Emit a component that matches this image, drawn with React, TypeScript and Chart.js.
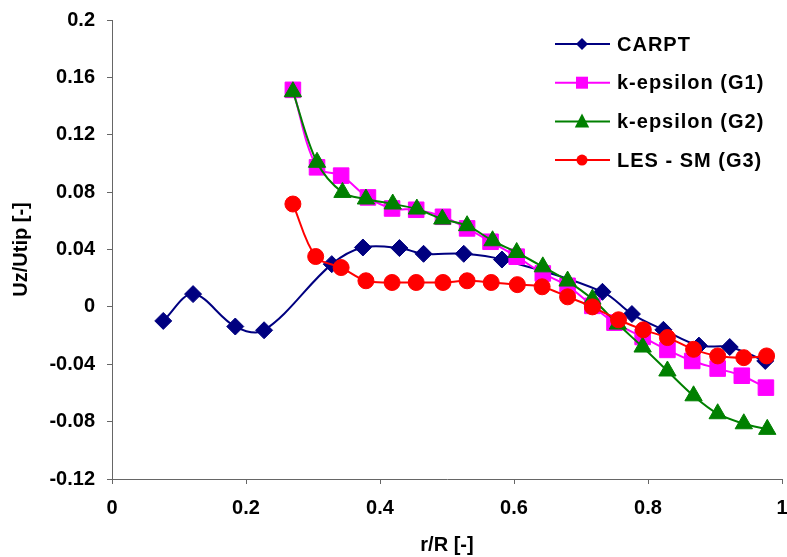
import React, { useEffect, useRef } from "react";
import { Chart, registerables } from "chart.js";

Chart.register(...registerables);

const carptX = [0.0765, 0.121, 0.184, 0.227, 0.328, 0.3745, 0.429, 0.465, 0.525, 0.582, 0.732, 0.776, 0.823, 0.876, 0.922, 0.975];
const carptY = [-0.0098, 0.0089, -0.0137, -0.0163, 0.0298, 0.0414, 0.041, 0.037, 0.037, 0.033, 0.0105, -0.005, -0.016, -0.027, -0.028, -0.0377];

const g1X = [0.27, 0.306, 0.342, 0.382, 0.418, 0.454, 0.494, 0.53, 0.565, 0.604, 0.643, 0.68, 0.717, 0.75, 0.792, 0.829, 0.866, 0.904, 0.94, 0.976];
const g1Y = [0.1513, 0.0973, 0.0915, 0.0763, 0.0686, 0.0677, 0.0628, 0.0547, 0.0454, 0.035, 0.0233, 0.0147, 0.0007, -0.011, -0.021, -0.03, -0.0377, -0.043, -0.048, -0.0563];

const g2X = [0.27, 0.306, 0.344, 0.379, 0.419, 0.455, 0.493, 0.53, 0.568, 0.604, 0.643, 0.68, 0.717, 0.755, 0.792, 0.829, 0.868, 0.904, 0.943, 0.978];
const g2Y = [0.15, 0.1008, 0.0798, 0.0752, 0.0717, 0.0682, 0.0612, 0.0566, 0.0461, 0.0379, 0.0279, 0.018, 0.0054, -0.012, -0.028, -0.0447, -0.062, -0.0745, -0.0815, -0.0854];

const lesX = [0.27, 0.304, 0.342, 0.379, 0.418, 0.454, 0.494, 0.53, 0.566, 0.605, 0.642, 0.68, 0.717, 0.756, 0.793, 0.829, 0.868, 0.904, 0.943, 0.977];
const lesY = [0.0717, 0.0351, 0.0274, 0.0182, 0.017, 0.017, 0.017, 0.0182, 0.017, 0.0155, 0.014, 0.007, 0.0, -0.009, -0.016, -0.0214, -0.0296, -0.0342, -0.0354, -0.0342];

const seriesNames = ["CARPT", "k-epsilon (G1)", "k-epsilon (G2)", "LES - SM (G3)"];
const xTitle = "r/R [-]";
const yTitle = "Uz/Utip [-]";

const FONT = "'Liberation Sans', Arial, sans-serif";

const toPts = (xs: number[], ys: number[]) => xs.map((x, i) => ({ x, y: ys[i] }));

const legendPlugin = {
  id: "customLegend",
  afterDraw(chart: any) {
    const ctx = chart.ctx;
    const ds = chart.data.datasets;
    ctx.save();
    ds.forEach((d: any, i: number) => {
      const y = 44 + i * 38.7;
      ctx.strokeStyle = d.borderColor;
      ctx.lineWidth = 2;
      ctx.beginPath();
      ctx.moveTo(555, y);
      ctx.lineTo(610, y);
      ctx.stroke();
      const r = d.legendRadius;
      ctx.fillStyle = d.pointBackgroundColor;
      ctx.beginPath();
      if (d.pointStyle === "rectRot") {
        ctx.moveTo(582, y - r);
        ctx.lineTo(582 + r, y);
        ctx.lineTo(582, y + r);
        ctx.lineTo(582 - r, y);
        ctx.closePath();
      } else if (d.pointStyle === "rect") {
        ctx.rect(582 - r, y - r, 2 * r, 2 * r);
      } else if (d.pointStyle === "triangle") {
        ctx.moveTo(582, y - r);
        ctx.lineTo(582 + r * 0.9, y + r * 0.75);
        ctx.lineTo(582 - r * 0.9, y + r * 0.75);
        ctx.closePath();
      } else {
        ctx.arc(582, y, r, 0, Math.PI * 2);
      }
      ctx.fill();
      ctx.fillStyle = "#000";
      ctx.font = `bold 20px ${FONT}`;
      ctx.textBaseline = "middle";
      ctx.textAlign = "left";
      try { (ctx as any).letterSpacing = "1px"; } catch (e) {}
      ctx.fillText(d.label, 617, y + 1);
    });
    ctx.restore();
  },
};

export default function App() {
  const ref = useRef<HTMLCanvasElement | null>(null);
  useEffect(() => {
    if (!ref.current) return;
    const mk = (i: number, xs: number[], ys: number[], color: string, style: string, radius: number, legendRadius: number, order: number) => ({
      label: seriesNames[i],
      data: toPts(xs, ys),
      borderColor: color,
      backgroundColor: color,
      pointBackgroundColor: color,
      pointBorderColor: color,
      pointStyle: style,
      pointRadius: radius,
      pointBorderWidth: 1,
      borderWidth: 2,
      tension: 0.35,
      order,
      legendRadius,
    });
    const chart = new Chart(ref.current, {
      type: "line",
      data: {
        datasets: [
          mk(0, carptX, carptY, "#000080", "rectRot", 8.5, 6, 4),
          mk(1, g1X, g1Y, "#FF00FF", "rect", 11, 6, 3),
          mk(2, g2X, g2Y, "#008000", "triangle", 10, 8, 2),
          mk(3, lesX, lesY, "#FF0000", "circle", 8, 5.5, 1),
        ] as any,
      },
      options: {
        animation: false,
        responsive: false,
        devicePixelRatio: 1,
        layout: { padding: { top: 20, right: 0, left: 0, bottom: 0 } },
        plugins: { legend: { display: false }, tooltip: { enabled: false } },
        scales: {
          x: {
            type: "linear",
            min: 0,
            max: 1,
            afterFit: (s: any) => { s.height = 78; s.paddingLeft = 0; s.paddingRight = 0; },
            ticks: {
              stepSize: 0.2,
              padding: 12,
              color: "#000",
              font: { family: FONT, size: 20, weight: "bold" },
              maxRotation: 0,
              callback: (v: any) => String(Math.round(Number(v) * 10) / 10),
            },
            grid: { drawOnChartArea: false, tickLength: 5, color: "#666" },
            border: { display: true, color: "#666", width: 1 },
            title: { display: true, text: xTitle, color: "#000", font: { family: FONT, size: 20, weight: "bold" }, padding: { top: 4, bottom: 0 } },
          },
          y: {
            type: "linear",
            min: -0.12,
            max: 0.2,
            afterFit: (s: any) => { s.width = 112; s.paddingTop = 0; s.paddingBottom = 0; },
            ticks: {
              stepSize: 0.04,
              padding: 12,
              color: "#000",
              font: { family: FONT, size: 20, weight: "bold" },
              callback: (v: any) => String(Math.round(Number(v) * 100) / 100),
            },
            grid: { drawOnChartArea: false, tickLength: 5, color: "#666" },
            border: { display: true, color: "#666", width: 1 },
            title: { display: true, text: yTitle, color: "#000", font: { family: FONT, size: 20, weight: "bold" }, padding: { top: 9, bottom: 0 } },
          },
        },
      } as any,
      plugins: [legendPlugin],
    });
    return () => chart.destroy();
  }, []);
  return (
    <div style={{ position: "absolute", left: 0, top: 0, width: 787, height: 557, background: "#fff", overflow: "hidden" }}>
      <canvas ref={ref} width={794} height={557} style={{ display: "block" }} />
    </div>
  );
}
